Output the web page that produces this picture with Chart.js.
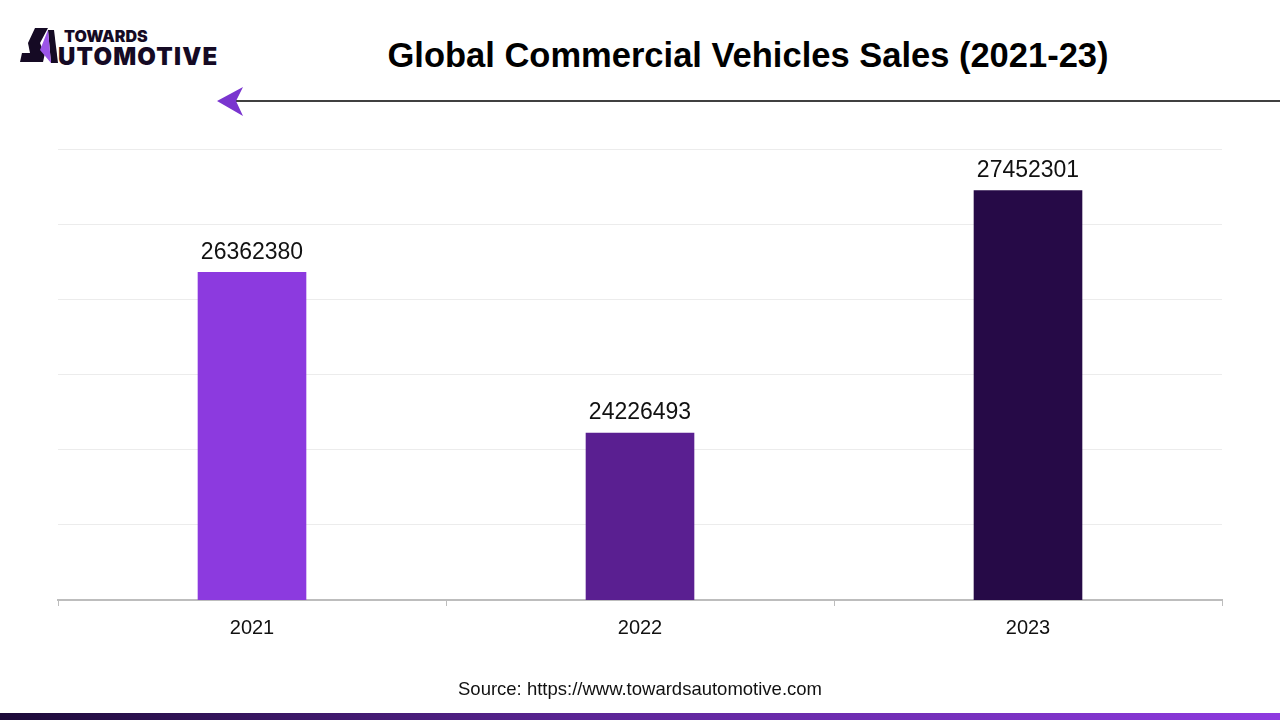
<!DOCTYPE html>
<html>
<head>
<meta charset="utf-8">
<script src="https://cdn.jsdelivr.net/npm/chart.js@4.4.1/dist/chart.umd.min.js"></script>
<style>
  body { margin: 0; width: 1280px; height: 720px; background: #fff; position: relative; overflow: hidden; font-family: "Liberation Sans", Arial, sans-serif; }
  #wrap { position: absolute; left: 0; top: 0; width: 1280px; height: 720px; }
  #title { position: absolute; left: 0; width: 1496px; top: 36px; text-align: center; font-family: "Liberation Sans", Arial, sans-serif; font-weight: 700; font-size: 34.5px; color: #000; }
  #source { position: absolute; left: 0; width: 1280px; top: 678px; text-align: center; font-size: 18.5px; color: #111; }
  #band { position: absolute; left: 0; top: 713px; width: 1280px; height: 7px; background: linear-gradient(to right, #1c0a38, #5a2494 45%, #8e3ae0); }
</style>
</head>
<body>
<svg style="position:absolute;left:0;top:0" width="1280" height="130">
  <!-- logo -->
  <polygon points="35,28 48,28 40,43 28,43" fill="#150a24"/>
  <polygon points="28,43 40,43 44,53 30,53" fill="#150a24"/>
  <polygon points="22,53 45,53 43,62 20,62" fill="#150a24"/>
  <polygon points="48,30 54,30 58,63 51,63" fill="#150a24"/>
  <polygon points="48,30 40,50 51,63" fill="#9b55e8"/>
  <text x="64" y="42" font-family="Inter, sans-serif" font-weight="900" font-size="16" fill="#150a24">TOWARDS</text>
  <text x="58" y="65" font-family="Inter, sans-serif" font-weight="900" font-size="24" letter-spacing="1.2" fill="#150a24">UTOMOTIVE</text>
  <!-- linha com seta -->
  <line x1="236" y1="101" x2="1280" y2="101" stroke="#000" stroke-width="1.5"/>
  <polygon points="217,101 243,87 236,101 243,116" fill="#7a35cf"/>
</svg>
<div id="title">Global Commercial Vehicles Sales (2021-23)</div>
<div id="wrap"><canvas id="chart" width="1280" height="720"></canvas></div>
<div id="source">Source: https://www.towardsautomotive.com</div>
<div id="band"></div>
<script>
const categorias = ['2021', '2022', '2023'];
const vendas = [26362380, 24226493, 27452301];
const cores = ['#8c3adf', '#5a1f91', '#260a47'];

const rotulos = {
  id: 'rotulos',
  afterDatasetsDraw(chart) {
    const ctx = chart.ctx;
    const meta = chart.getDatasetMeta(0);
    ctx.save();
    ctx.font = '23px "Liberation Sans", Arial, sans-serif';
    ctx.fillStyle = '#111';
    ctx.textAlign = 'center';
    ctx.textBaseline = 'bottom';
    meta.data.forEach((bar, i) => {
      ctx.fillText(String(vendas[i]), bar.x, bar.y - 8);
    });
    ctx.restore();
  }
};

const ctx = document.getElementById('chart').getContext('2d');
new Chart(ctx, {
  type: 'bar',
  data: {
    labels: categorias,
    datasets: [{
      data: vendas,
      backgroundColor: cores,
      barPercentage: 0.28,
      categoryPercentage: 1
    }]
  },
  options: {
    responsive: false,
    animation: false,
    layout: { padding: { left: 58, right: 58, top: 149, bottom: 0 } },
    plugins: { legend: { display: false }, tooltip: { enabled: false } },
    scales: {
      x: {
        grid: { drawOnChartArea: false, drawTicks: true, tickLength: 6, color: '#bdbdbd', offset: true },
        border: { color: '#bdbdbd', width: 2 },
        ticks: { color: '#111', padding: 10, font: { size: 20, family: '"Liberation Sans", Arial, sans-serif' } },
        afterFit: s => { s.height = 120; }
      },
      y: {
        min: 22000000,
        max: 28000000,
        ticks: { display: false, stepSize: 1000000 },
        grid: { color: '#ececec', drawTicks: false },
        border: { display: false },
        afterFit: s => { s.width = 0; }
      }
    }
  },
  plugins: [rotulos]
});
</script>
</body>
</html>
